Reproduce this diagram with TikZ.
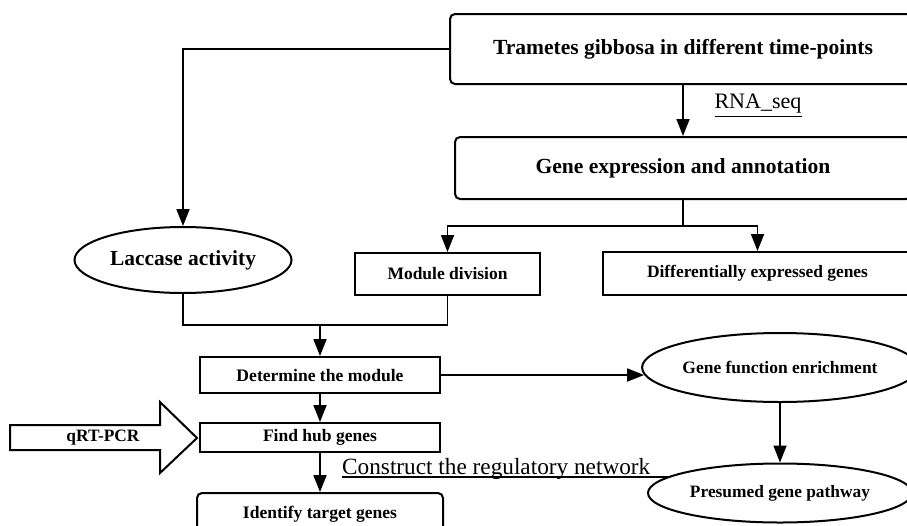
\documentclass[tikz,border=0pt]{standalone}
\usepackage{fontspec}
\setmainfont{Liberation Serif}
\usepackage{graphicx}
\usetikzlibrary{arrows.meta,shapes.geometric,calc}
\newcommand{\fw}[2]{\resizebox{#1pt}{!}{#2}}
\begin{document}
\begin{tikzpicture}[x=1pt,y=-1pt,
  box/.style={draw,line width=2pt,rectangle,inner sep=0pt,font=\bfseries},
  rbox/.style={box,rounded corners=5pt},
  ell/.style={draw,line width=2pt,ellipse,inner sep=0pt,font=\bfseries},
  arr/.style={line width=1.8pt,-{Triangle[length=17pt,width=13pt]}},
  ln/.style={line width=1.8pt}]
\useasboundingbox (0,0) rectangle (907,525);
\clip (0,0) rectangle (907,525);

% nodes
\node[rbox, minimum width=466pt, minimum height=70pt] (top) at (683,49) {\fw{380}{Trametes gibbosa in different time-points}};
\node[rbox, minimum width=456pt, minimum height=62pt] (gex) at (683,168) {\fw{295}{Gene expression and annotation}};
\node[ell, minimum width=217pt, minimum height=66pt] (lac) at (183,260) {\fw{146}{Laccase activity}};
\node[box, minimum width=185pt, minimum height=42pt] (mod) at (447.5,274) {\fw{120}{Module division}};
\node[box, minimum width=309pt, minimum height=43pt] (deg) at (757.5,273.5) {\fw{221}{Differentially expressed genes}};
\node[box, minimum width=240pt, minimum height=36pt] (det) at (320,375) {\fw{167}{Determine the module}};
\node[box, minimum width=240pt, minimum height=29pt] (hub) at (320,437.5) {\fw{114}{Find hub genes}};
\node[rbox, minimum width=246pt, minimum height=42pt] (ident) at (320,514) {\fw{154}{Identify target genes}};
\node[ell, minimum width=264pt, minimum height=69pt] (gfe) at (780,367.5) {\fw{195}{Gene function enrichment}};
\node[ell, minimum width=264pt, minimum height=59pt] (pres) at (780,493) {\fw{180}{Presumed gene pathway}};

% qRT-PCR block arrow
\draw[line width=2pt, line join=miter] (10,425) -- (160,425) -- (160,402) -- (197,438) -- (160,473) -- (160,450) -- (10,450) -- cycle;
\node[inner sep=0pt, font=\bfseries] (qrt) at (103,438) {\fw{73}{qRT-PCR}};

% labels
\node[inner sep=0pt] (rna) at (758,106) {\fw{87}{\underline{RNA\_seq}}};
\node[anchor=base west, inner sep=0pt] (cons) at (342,474) {\fw{308}{Construct the regulatory network}};
\coordinate (cend) at (668,477);
\draw[line width=1.4pt] ($(cons.base west)+(0,3)$) -- (cend);

% connectors
\draw[arr] (top.west) -| (lac.north);
\draw[arr] (top.south) -- (gex.north);
\coordinate (split) at (683,226);
\draw[ln] (gex.south) -- (split);
\draw[arr] (split) -| (mod.north);
\draw[arr] (split) -| (deg.north);
\coordinate (join) at (320,325);
\draw[ln] (lac.south) |- (mod.south |- join) -- (mod.south);
\draw[arr] (join) -- (det.north);
\draw[arr] (det.south) -- (hub.north);
\draw[arr] (hub.south) -- (ident.north);
\draw[arr] (det.east) -- ($(det.east -| gfe.west)+(3,0)$);
\draw[arr] (gfe.south) -- (pres.north);
\end{tikzpicture}
\end{document}
